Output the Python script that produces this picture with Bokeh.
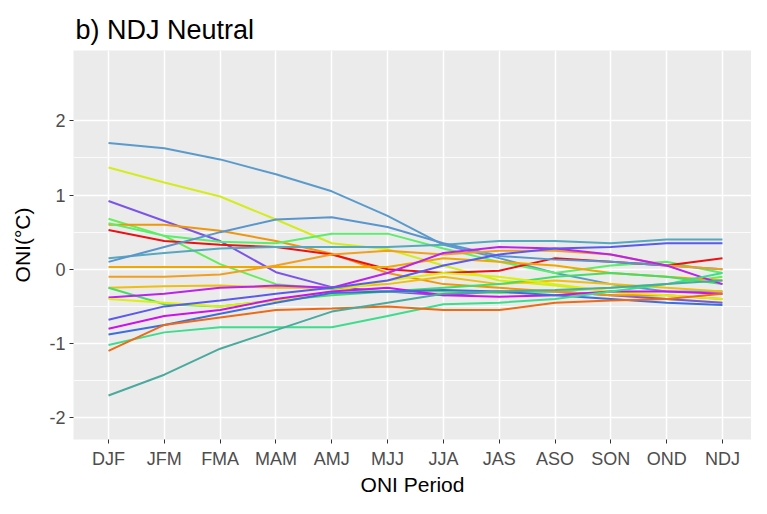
from bokeh.plotting import figure
from bokeh.models import Range1d, FixedTicker
from bokeh.embed import file_html
from bokeh.resources import INLINE

periods = ["DJF", "JFM", "FMA", "MAM", "AMJ", "MJJ", "JJA", "JAS", "ASO", "SON", "OND", "NDJ"]
y_ticks = [-2, -1, 0, 1, 2]
y_tick_labels = ["-2", "-1", "0", "1", "2"]

s01 = [1.70, 1.63, 1.48, 1.28, 1.05, 0.72, 0.33, 0.15, -0.05, -0.20, -0.30, -0.30]
s02 = [1.37, 1.17, 0.98, 0.67, 0.35, 0.27, 0.05, -0.15, -0.22, -0.30, -0.40, -0.45]
s03 = [0.92, 0.65, 0.38, -0.04, -0.24, -0.30, -0.35, -0.30, -0.30, -0.35, -0.40, -0.45]
s04 = [0.68, 0.45, 0.07, -0.20, -0.27, -0.30, -0.30, -0.32, -0.30, -0.25, -0.20, -0.10]
s05 = [0.60, 0.60, 0.52, 0.38, 0.21, -0.05, -0.20, -0.25, -0.30, -0.35, -0.35, -0.40]
s06 = [0.62, 0.45, 0.37, 0.35, 0.48, 0.48, 0.28, 0.10, -0.05, 0.05, 0.10, -0.05]
s07 = [0.53, 0.38, 0.33, 0.30, 0.20, 0.00, -0.05, -0.02, 0.15, 0.10, 0.05, 0.15]
s08 = [0.15, 0.22, 0.28, 0.30, 0.30, 0.30, 0.33, 0.38, 0.38, 0.35, 0.40, 0.40]
s09 = [0.10, 0.30, 0.50, 0.67, 0.70, 0.57, 0.35, 0.18, 0.13, 0.10, 0.05, 0.00]
s10 = [0.03, 0.03, 0.03, 0.03, 0.03, 0.03, 0.15, 0.10, 0.05, -0.05, -0.10, -0.15]
s11 = [-0.10, -0.10, -0.07, 0.05, 0.20, 0.25, 0.20, 0.25, 0.25, 0.20, 0.05, 0.00]
s12 = [-0.25, -0.23, -0.22, -0.25, -0.25, -0.20, -0.10, -0.20, -0.15, -0.20, -0.25, -0.30]
s13 = [-0.25, -0.47, -0.50, -0.42, -0.35, -0.30, -0.25, -0.20, -0.10, -0.05, -0.10, -0.20]
s14 = [-0.38, -0.33, -0.25, -0.22, -0.25, -0.05, 0.22, 0.30, 0.28, 0.20, 0.05, -0.20]
s15 = [-0.40, -0.45, -0.50, -0.42, -0.30, -0.15, -0.05, -0.10, -0.20, -0.30, -0.35, -0.40]
s16 = [-0.68, -0.50, -0.42, -0.33, -0.25, -0.15, 0.05, 0.20, 0.28, 0.30, 0.35, 0.35]
s17 = [-0.80, -0.63, -0.55, -0.40, -0.30, -0.25, -0.35, -0.37, -0.35, -0.30, -0.30, -0.33]
s18 = [-0.88, -0.75, -0.60, -0.45, -0.32, -0.30, -0.28, -0.30, -0.35, -0.40, -0.45, -0.48]
s19 = [-1.02, -0.85, -0.78, -0.78, -0.78, -0.63, -0.47, -0.45, -0.40, -0.30, -0.20, -0.05]
s20 = [-1.10, -0.75, -0.65, -0.55, -0.53, -0.50, -0.55, -0.55, -0.45, -0.42, -0.40, -0.33]
s21 = [-1.70, -1.42, -1.07, -0.82, -0.57, -0.45, -0.33, -0.30, -0.28, -0.25, -0.20, -0.15]

series = [s01, s02, s03, s04, s05, s06, s07, s08, s09, s10, s11, s12, s13, s14,
          s15, s16, s17, s18, s19, s20, s21]
colors = ["#5B9BCB", "#D4EC1A", "#7B55E8", "#66EE55", "#F0960A", "#5AEE6A", "#EE1111",
          "#55A8BE", "#5A96CE", "#F0A800", "#F0A020", "#EEBE10", "#44DD66", "#BB22EE",
          "#DDEE11", "#5A5AEE", "#CC11EE", "#3C6EDD", "#3CDD8C", "#EE6A14", "#4AAA9E"]

W, H = 751, 498
p = figure(width=W, height=H, output_backend="svg", toolbar_location=None,
           x_range=Range1d(0.373, 12.52), y_range=Range1d(-2.293, 2.947),
           min_border_left=73, min_border_right=0, min_border_top=50, min_border_bottom=55)

x = list(range(1, len(periods) + 1))
for s, c in zip(series, colors):
    p.line(x, s, line_color=c, line_width=2)

p.background_fill_color = "#EBEBEB"
p.border_fill_color = "white"
p.outline_line_color = None

p.xgrid.grid_line_color = "white"
p.xgrid.grid_line_width = 1.5
p.ygrid.grid_line_color = "white"
p.ygrid.grid_line_width = 1.5
p.ygrid.minor_grid_line_color = "white"
p.ygrid.minor_grid_line_width = 0.8

p.xaxis.ticker = FixedTicker(ticks=x)
p.xaxis.major_label_overrides = {i: lab for i, lab in zip(x, periods)}
p.yaxis.ticker = FixedTicker(ticks=y_ticks, minor_ticks=[-1.5, -0.5, 0.5, 1.5])
p.yaxis.major_label_overrides = {t: lab for t, lab in zip(y_ticks, y_tick_labels)}

for ax in (p.xaxis[0], p.yaxis[0]):
    ax.axis_line_color = None
    ax.major_tick_line_color = "#333333"
    ax.major_tick_in = 0
    ax.major_tick_out = 4
    ax.minor_tick_line_color = None
    ax.major_label_text_color = "#4D4D4D"
    ax.major_label_text_font = "Liberation Sans"
    ax.major_label_text_font_size = "18px"
    ax.axis_label_text_font = "Liberation Sans"
    ax.axis_label_text_font_size = "21px"
    ax.axis_label_text_font_style = "normal"
    ax.axis_label_text_color = "black"

p.xaxis.axis_label = "ONI Period"
p.yaxis.axis_label = "ONI(°C)"
p.xaxis.major_label_standoff = 5
p.yaxis.major_label_standoff = 4
p.xaxis.axis_label_standoff = 1
p.yaxis.axis_label_standoff = 12

p.title.text = "b) NDJ Neutral"
p.title.text_font = "Liberation Sans"
p.title.text_font_size = "27px"
p.title.text_font_style = "normal"
p.title.text_color = "black"
p.title.offset = 2
p.title.standoff = 12

open("out.html", "w").write(file_html(p, INLINE))
